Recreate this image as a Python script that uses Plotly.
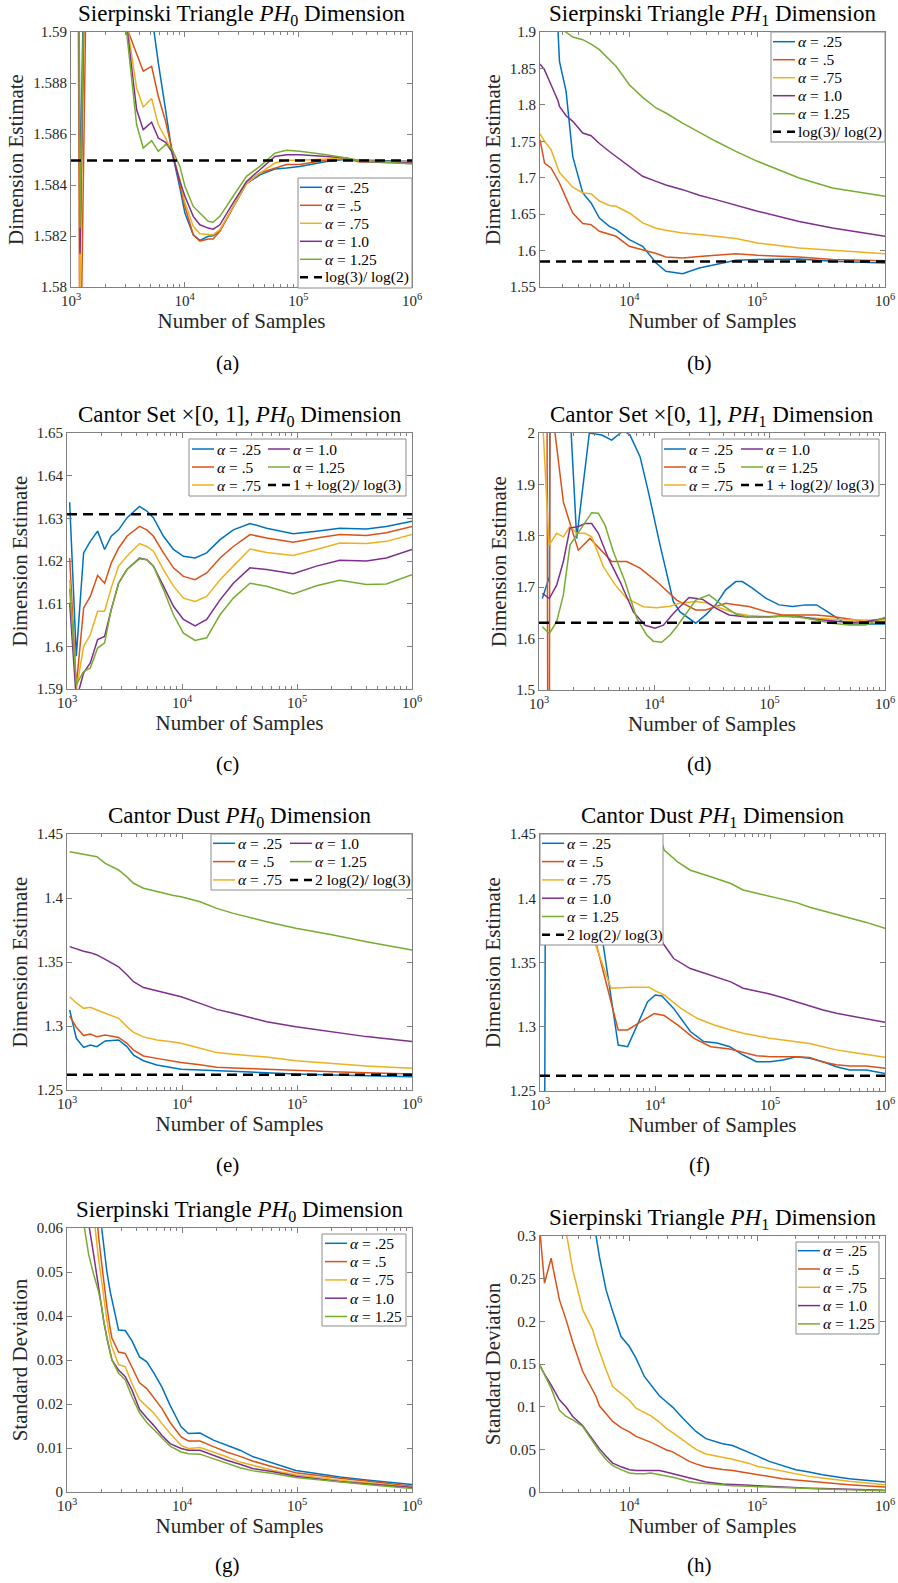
import math
import plotly.graph_objects as go

W, H = 898, 1583
FONT = "Liberation Serif"
TXT = "#262626"
AX = "#808080"
COLORS = ["#0072BD", "#D95319", "#EDB120", "#7E2F8E", "#77AC30"]
ALPHA_LABELS = ["<i>α</i> = .25", "<i>α</i> = .5", "<i>α</i> = .75", "<i>α</i> = 1.0", "<i>α</i> = 1.25"]

# ---------------- (a) Sierpinski PH0 dimension ----------------
A_X = [1000, 1200, 1330, 1800, 2900, 3780, 4320, 5120, 5860, 6790, 7670, 9080, 10050, 11900, 13600,
       16100, 17800, 20400, 26700, 35000, 45900, 62100, 78700, 103000, 177000, 265000, 347000, 557000, 1000000]
A_025 = [1.66, 1.5835, 1.66, 1.63, 1.598, 1.595, 1.5931, 1.5907, 1.5888, 1.58695, 1.58539, 1.58388, 1.5829, 1.58205, 1.58183,
         1.58199, 1.58201, 1.58222, 1.58314, 1.58405, 1.5844, 1.58463, 1.58467, 1.58473, 1.58492, 1.58501, 1.58498, 1.58495, 1.58492]
A_050 = [1.66, 1.575, 1.66, 1.63, 1.5905, 1.5891, 1.58846, 1.58865, 1.58748, 1.5865, 1.58545, 1.58395, 1.58316, 1.58205, 1.5818,
         1.58188, 1.58188, 1.58218, 1.5831, 1.58408, 1.58447, 1.58467, 1.5848, 1.5848, 1.58498, 1.58502, 1.5849, 1.58492, 1.58492]
A_075 = [1.66, 1.5800, 1.66, 1.63, 1.5912, 1.5878, 1.58706, 1.58739, 1.58637, 1.58584, 1.58532, 1.58421, 1.5833, 1.58238, 1.58209,
         1.58205, 1.58205, 1.58225, 1.58316, 1.58405, 1.58447, 1.58486, 1.58497, 1.58497, 1.58502, 1.58505, 1.58497, 1.5849, 1.5849]
A_100 = [1.66, 1.5813, 1.66, 1.63, 1.5913, 1.58695, 1.58617, 1.58646, 1.58584, 1.58567, 1.58532, 1.58414, 1.58356, 1.58277, 1.58244,
         1.58231, 1.58227, 1.58244, 1.5833, 1.58414, 1.5846, 1.58512, 1.58519, 1.58519, 1.58512, 1.58506, 1.58493, 1.58488, 1.58486]
A_125 = [1.66, 1.5823, 1.66, 1.63, 1.5911, 1.58637, 1.58545, 1.58574, 1.58532, 1.58558, 1.58545, 1.58473, 1.58395, 1.58316, 1.5829,
         1.58258, 1.58254, 1.58277, 1.58356, 1.58434, 1.58473, 1.58525, 1.58536, 1.58532, 1.58519, 1.58506, 1.58493, 1.5849, 1.58482]
A_REF = 1.58496
A_YT = [1.58, 1.582, 1.584, 1.586, 1.588, 1.59]
A_YL = ["1.58", "1.582", "1.584", "1.586", "1.588", "1.59"]

# ---------------- (b) Sierpinski PH1 dimension ----------------
B_X = [2000, 2170, 2440, 2760, 2840, 3200, 3610, 4320, 5020, 5830, 6980, 7870, 10000, 12700, 16200, 19300,
       26100, 35200, 47500, 68100, 100600, 213000, 388000, 1000000]
B_025 = [2.2, 2.1, 1.99, 1.905, 1.8597, 1.8186, 1.729, 1.679, 1.6653, 1.6447, 1.6333, 1.6287, 1.615, 1.6059, 1.583, 1.5716,
         1.5683, 1.576, 1.5807, 1.5866, 1.5876, 1.5885, 1.5853, 1.583]
B_050 = [1.7522, 1.720, 1.7134, 1.695, 1.6928, 1.672, 1.6516, 1.637, 1.6356, 1.6264, 1.622, 1.6196, 1.6059, 1.6013, 1.596, 1.5912,
         1.5898, 1.592, 1.5935, 1.5958, 1.5935, 1.5912, 1.5876, 1.5862]
B_075 = [1.7605, 1.750, 1.7385, 1.712, 1.707, 1.6973, 1.687, 1.679, 1.678, 1.668, 1.662, 1.6607, 1.6516, 1.6379, 1.6306, 1.628,
         1.6242, 1.622, 1.6196, 1.6165, 1.6104, 1.6036, 1.6004, 1.5958]
B_100 = [1.856, 1.848, 1.8277, 1.806, 1.798, 1.785, 1.7774, 1.7614, 1.7577, 1.747, 1.736, 1.729, 1.7156, 1.702, 1.695, 1.690,
         1.6836, 1.676, 1.6699, 1.662, 1.654, 1.640, 1.631, 1.6196]
B_125 = [1.93, 1.925, 1.915, 1.908, 1.906, 1.900, 1.893, 1.8895, 1.8835, 1.8758, 1.862, 1.853, 1.8277, 1.8103, 1.7957, 1.7888,
         1.775, 1.7625, 1.750, 1.7362, 1.7225, 1.6996, 1.686, 1.6745]
B_REF = 1.58496
B_YT = [1.55, 1.6, 1.65, 1.7, 1.75, 1.8, 1.85, 1.9]
B_YL = ["1.55", "1.6", "1.65", "1.7", "1.75", "1.8", "1.85", "1.9"]

# ---------------- (c) Cantor set x [0,1] PH0 ----------------
C_X = [1055, 1205, 1395, 1594, 1846, 2123, 2425, 2808, 3317, 4272, 4945, 5651, 6901, 8428, 10290, 12990,
       16400, 21410, 27950, 38990, 54400, 92700, 147700, 235500, 401300, 598400, 1000000]
C_025 = [1.63375, 1.5977, 1.6219, 1.6246, 1.627, 1.6227, 1.6258, 1.6273, 1.6301, 1.6328, 1.6317, 1.6301, 1.6258, 1.6227,
         1.6211, 1.6207, 1.6219, 1.625, 1.6273, 1.6288, 1.6277, 1.6264, 1.6270, 1.6277, 1.6275, 1.6281, 1.6293]
C_050 = [1.6207, 1.5906, 1.609, 1.6117, 1.6166, 1.6148, 1.6195, 1.623, 1.6258, 1.6281, 1.6273, 1.6258, 1.6219, 1.6184,
         1.6164, 1.6156, 1.6172, 1.6207, 1.6234, 1.6262, 1.6254, 1.6244, 1.6254, 1.6262, 1.626, 1.6266, 1.6281]
C_075 = [1.6156, 1.5898, 1.6, 1.6027, 1.6082, 1.6082, 1.6137, 1.6188, 1.6211, 1.6241, 1.6234, 1.6223, 1.618, 1.6141,
         1.6113, 1.6105, 1.6117, 1.6156, 1.6188, 1.6228, 1.622, 1.6213, 1.6227, 1.6242, 1.6241, 1.6246, 1.6262]
C_100 = [1.6102, 1.5875, 1.5938, 1.5961, 1.6016, 1.6023, 1.6086, 1.6148, 1.618, 1.6207, 1.6203, 1.6188, 1.6141, 1.6094,
         1.6063, 1.6048, 1.6063, 1.6109, 1.6148, 1.6184, 1.618, 1.617, 1.6188, 1.6202, 1.62, 1.6207, 1.6227]
C_125 = [1.6135, 1.591, 1.5941, 1.5949, 1.5996, 1.6008, 1.6086, 1.6148, 1.618, 1.6205, 1.6203, 1.6188, 1.6133, 1.6074,
         1.6031, 1.6014, 1.602, 1.6074, 1.6113, 1.6148, 1.6141, 1.6123, 1.6142, 1.6155, 1.6145, 1.6146, 1.6168]
C_REF = 1.63093
C_YT = [1.59, 1.6, 1.61, 1.62, 1.63, 1.64, 1.65]
C_YL = ["1.59", "1.6", "1.61", "1.62", "1.63", "1.64", "1.65"]

# ---------------- (d) Cantor set x [0,1] PH1 ----------------
D_X025 = [1069, 1229, 1265, 1500, 1850, 2123, 2732, 3498, 4269, 4875, 5400, 6150, 7516, 8870, 11210, 14620, 16710,
          22830, 27870, 34030, 41540, 50800, 57900, 70800, 92400, 120800, 157700, 206000, 255300, 316000, 392000, 460000, 1000000]
D_025 = [1.678, 1.720, 2.5, 2.5, 2.05, 1.795, 2.0, 1.996, 1.986, 1.996, 2.005, 1.996, 1.954, 1.886, 1.782, 1.672, 1.652,
         1.6299, 1.6461, 1.6656, 1.6948, 1.711, 1.711, 1.698, 1.6786, 1.6656, 1.6623, 1.6656, 1.6656, 1.6526, 1.6396, 1.6286, 1.6286]
D_X050 = [1069, 1150, 1215, 1260, 1377, 1626, 2193, 2769, 4269, 5760, 7516, 10490, 15630, 22830, 27870, 34030, 41540,
          50720, 66210, 92330, 128800, 179600, 250500, 349400, 487400, 679800, 1000000]
D_050 = [3.0, 3.0, 0.5, 3.0, 2.0, 1.866, 1.772, 1.795, 1.750, 1.750, 1.737, 1.711, 1.675, 1.6558, 1.6558, 1.6623, 1.6688,
         1.666, 1.6623, 1.6526, 1.6461, 1.6461, 1.6461, 1.643, 1.6377, 1.6331, 1.6331]
D_X075 = [1069, 1090, 1221, 1423, 1626, 1857, 2123, 2506, 2863, 3612, 4560, 5760, 8029, 10490, 13690, 16710, 22830,
          27870, 34030, 41540, 50720, 66210, 92330, 128800, 179600, 250500, 349400, 487400, 679800, 1000000]
D_075 = [2.2, 2.0, 1.782, 1.805, 1.798, 1.818, 1.805, 1.805, 1.798, 1.740, 1.705, 1.678, 1.662, 1.660, 1.663, 1.669, 1.6721,
         1.6699, 1.6623, 1.656, 1.6494, 1.645, 1.6429, 1.6429, 1.641, 1.6396, 1.638, 1.6364, 1.6364, 1.6364]
D_X100 = [1069, 1229, 1423, 1626, 1857, 2194, 2506, 2863, 3270, 3994, 5040, 6579, 8307, 10140, 11970, 14610, 20000,
          26090, 34030, 44460, 66210, 92330, 128800, 179600, 250500, 349400, 487400, 679800, 1000000]
D_100 = [1.688, 1.678, 1.704, 1.750, 1.815, 1.818, 1.824, 1.824, 1.805, 1.756, 1.711, 1.652, 1.626, 1.620, 1.626, 1.649, 1.6799,
         1.6766, 1.6591, 1.6461, 1.6416, 1.642, 1.6442, 1.643, 1.6377, 1.635, 1.6312, 1.633, 1.6396]
D_X125 = [1069, 1229, 1423, 1626, 1857, 2123, 2506, 2863, 3270, 3736, 4413, 5570, 7038, 8590, 9800, 11590, 13690, 15630,
          22860, 29800, 38900, 50800, 66210, 92330, 128800, 179600, 250500, 349400, 487400, 679800, 1000000]
D_125 = [1.623, 1.610, 1.633, 1.685, 1.782, 1.802, 1.827, 1.845, 1.844, 1.821, 1.769, 1.711, 1.639, 1.607, 1.595, 1.593, 1.607, 1.623,
         1.675, 1.685, 1.665, 1.648, 1.6416, 1.6416, 1.6442, 1.642, 1.6364, 1.630, 1.6266, 1.6266, 1.6416]
D_REF = 1.63093
D_YT = [1.5, 1.6, 1.7, 1.8, 1.9, 2.0]
D_YL = ["1.5", "1.6", "1.7", "1.8", "1.9", "2"]

# ---------------- (e) Cantor dust PH0 ----------------
E_X = [1055, 1205, 1395, 1594, 1821, 2151, 2808, 3317, 3789, 4627, 6039, 8428, 9822, 14360, 20030, 27950, 54400,
       97770, 206200, 401300, 1000000]
E_025 = [1.3125, 1.2904, 1.2833, 1.2852, 1.2839, 1.2883, 1.2891, 1.2839, 1.2773, 1.2729, 1.2695, 1.2669, 1.2663, 1.2656,
         1.2650, 1.2643, 1.2635, 1.2625, 1.2617, 1.2612, 1.2604]
E_050 = [1.3078, 1.2990, 1.2925, 1.2938, 1.2917, 1.2930, 1.2911, 1.2865, 1.2812, 1.2766, 1.2747, 1.2721, 1.2715, 1.2698,
         1.2677, 1.2672, 1.2661, 1.2652, 1.2643, 1.2635, 1.2625]
E_075 = [1.3229, 1.3180, 1.3138, 1.3146, 1.3125, 1.3100, 1.3060, 1.2995, 1.2950, 1.2915, 1.2890, 1.2875, 1.2865, 1.2826,
         1.2792, 1.2780, 1.2757, 1.2729, 1.2708, 1.2688, 1.2669]
E_100 = [1.3620, 1.3600, 1.3584, 1.3573, 1.3555, 1.3520, 1.3463, 1.3400, 1.3346, 1.3300, 1.3276, 1.3245, 1.3229, 1.3177,
         1.3130, 1.3099, 1.3034, 1.2995, 1.2956, 1.2917, 1.2878]
E_125 = [1.4362, 1.4352, 1.4345, 1.4336, 1.4323, 1.4270, 1.4219, 1.4165, 1.4115, 1.4076, 1.4049, 1.4020, 1.4010, 1.3971,
         1.3919, 1.3880, 1.3815, 1.3763, 1.3711, 1.3659, 1.3594]
E_REF = 1.26186
E_YT = [1.25, 1.3, 1.35, 1.4, 1.45]
E_YL = ["1.25", "1.3", "1.35", "1.4", "1.45"]

# ---------------- (f) Cantor dust PH1 ----------------
F_X025 = [1000, 1080, 1130, 1500, 2500, 3548, 4786, 5780, 8630, 10060, 11500, 14520, 20300, 26500, 34630, 44700, 58390,
          76270, 99550, 130000, 169800, 221700, 289300, 377700, 493300, 688600, 1000000]
F_025 = [0.9, 1.0, 1.6, 1.6, 1.50, 1.3636, 1.2858, 1.2845, 1.3195, 1.3247, 1.3240, 1.3143, 1.2963, 1.2885, 1.2873, 1.2845, 1.2780,
         1.2728, 1.2728, 1.2741, 1.2767, 1.2754, 1.2728, 1.2689, 1.2663, 1.2663, 1.2637]
F_X050 = [1000, 1500, 2500, 3101, 4786, 5780, 7543, 9840, 12020, 15720, 21890, 30570, 44700, 58390, 76270, 99550, 130000,
          169800, 221700, 289300, 377700, 493300, 688600, 1000000]
F_050 = [1.42, 1.44, 1.42, 1.3636, 1.2975, 1.2975, 1.304, 1.3103, 1.3087, 1.3014, 1.2910, 1.2845, 1.2826, 1.2800, 1.2775, 1.2767,
         1.2767, 1.2767, 1.2760, 1.2725, 1.2705, 1.2695, 1.2695, 1.2676]
F_X075 = [1000, 1500, 2500, 3050, 4140, 6176, 8907, 10060, 12020, 16790, 23440, 32700, 45640, 58390, 76270, 99550, 130000,
          169800, 221700, 289300, 377700, 493300, 688600, 1000000]
F_075 = [1.43, 1.44, 1.42, 1.3636, 1.3299, 1.3307, 1.3307, 1.3279, 1.3247, 1.3143, 1.3064, 1.3014, 1.2975, 1.2950, 1.2930, 1.2910,
         1.2897, 1.2885, 1.2870, 1.2845, 1.2820, 1.2803, 1.2783, 1.2762]
F_X100 = [1000, 2000, 4000, 8000, 12020, 14520, 20300, 30570, 45640, 58390, 76270, 99550, 130000, 169800, 221700, 289300,
          377700, 493300, 688600, 1000000]
F_100 = [1.47, 1.46, 1.43, 1.39, 1.3636, 1.3531, 1.3453, 1.3401, 1.3349, 1.3300, 1.3280, 1.3255, 1.3226, 1.3195, 1.3160, 1.3130,
         1.3105, 1.3085, 1.3060, 1.3034]
F_X125 = [1000, 5000, 10000, 12020, 15720, 20300, 30570, 45640, 58390, 76270, 99550, 130000, 169800, 221700, 289300, 377700,
          493300, 688600, 1000000]
F_125 = [1.52, 1.50, 1.46, 1.4375, 1.4283, 1.4218, 1.4167, 1.4115, 1.4064, 1.4040, 1.4018, 1.3992, 1.3966, 1.3930, 1.3903, 1.3875,
         1.3850, 1.3812, 1.3766]
F_REF = 1.26186

# ---------------- (g) Sierpinski PH0 standard deviation ----------------
G_X = [1000, 1414, 1542, 1704, 1821, 1883, 2012, 2081, 2224, 2377, 2458, 2808, 3208, 3665, 4272, 4945, 5651, 6674, 7884,
       9822, 11370, 14360, 18750, 24460, 31930, 41680, 62170, 97770, 147700, 235500, 401300, 1000000]
G_025 = [0.160, 0.110, 0.095, 0.080, 0.070, 0.066, 0.0595, 0.056, 0.050, 0.0455, 0.0437, 0.0368, 0.0367, 0.0344, 0.0307, 0.0296,
         0.0272, 0.0239, 0.0197, 0.0148, 0.0133, 0.0134, 0.0118, 0.0106, 0.0095, 0.0080, 0.0065, 0.0049, 0.0042, 0.0034, 0.0027, 0.0017]
G_050 = [0.140, 0.095, 0.083, 0.070, 0.062, 0.058, 0.0515, 0.048, 0.042, 0.037, 0.035, 0.0318, 0.0315, 0.0284, 0.0248, 0.0235,
         0.0216, 0.0190, 0.0158, 0.0125, 0.0116, 0.0116, 0.0103, 0.0091, 0.0081, 0.0070, 0.0057, 0.0044, 0.0038, 0.0031, 0.0025, 0.0013]
G_075 = [0.120, 0.085, 0.075, 0.063, 0.056, 0.053, 0.0475, 0.0445, 0.039, 0.0345, 0.033, 0.0289, 0.0285, 0.0247, 0.0210, 0.0194,
         0.0180, 0.0156, 0.0133, 0.0106, 0.0099, 0.0101, 0.0091, 0.0080, 0.0068, 0.0061, 0.0049, 0.0039, 0.0033, 0.0027, 0.0021, 0.0011]
G_100 = [0.100, 0.070, 0.061, 0.054, 0.049, 0.046, 0.0415, 0.039, 0.035, 0.032, 0.030, 0.0277, 0.0262, 0.0232, 0.0188, 0.0168,
         0.0152, 0.0129, 0.0110, 0.0099, 0.0095, 0.0095, 0.0084, 0.0072, 0.0063, 0.0053, 0.0046, 0.0036, 0.0030, 0.0024, 0.0019, 0.0010]
G_125 = [0.085, 0.061, 0.054, 0.0495, 0.047, 0.0455, 0.0418, 0.039, 0.035, 0.0315, 0.030, 0.0270, 0.0255, 0.0217, 0.0180, 0.0158,
         0.0142, 0.0122, 0.0104, 0.0091, 0.0087, 0.0086, 0.0076, 0.0065, 0.0055, 0.0048, 0.0042, 0.0033, 0.0028, 0.0022, 0.0017, 0.0008]
G_YT = [0, 0.01, 0.02, 0.03, 0.04, 0.05, 0.06]
G_YL = ["0", "0.01", "0.02", "0.03", "0.04", "0.05", "0.06"]

# ---------------- (h) Sierpinski PH1 standard deviation ----------------
H_X = [2000, 2168, 2443, 2839, 3201, 3608, 4319, 5170, 5490, 5829, 6573, 7410, 8608, 10000, 11270, 13100, 14770, 17160,
       19340, 21800, 26100, 29430, 33170, 39720, 53600, 64170, 86600, 100600, 124100, 157700, 200500, 254800, 323800, 523400, 1000000]
H_025 = [0.60, 0.55, 0.50, 0.45, 0.42, 0.39, 0.35, 0.31, 0.30, 0.2758, 0.2368, 0.2114, 0.1822, 0.1705, 0.1568, 0.1354, 0.1256,
         0.1127, 0.1060, 0.0995, 0.0866, 0.0790, 0.0710, 0.0625, 0.0565, 0.0545, 0.0456, 0.0420, 0.0359, 0.0310, 0.0261, 0.0235,
         0.0203, 0.0156, 0.0117]
H_050 = [0.305, 0.2446, 0.2739, 0.2251, 0.2017, 0.1755, 0.1412, 0.1197, 0.1120, 0.1010, 0.0915, 0.0827, 0.0755, 0.0705, 0.0651,
         0.0615, 0.0581, 0.0535, 0.0495, 0.0470, 0.0405, 0.0359, 0.0330, 0.0292, 0.0265, 0.0253, 0.0220, 0.0203, 0.0180, 0.0156,
         0.0140, 0.0125, 0.0112, 0.0086, 0.0058]
H_075 = [0.50, 0.46, 0.41, 0.35, 0.305, 0.2602, 0.2134, 0.1900, 0.1760, 0.1650, 0.1432, 0.1236, 0.1160, 0.1075, 0.0983, 0.0930,
         0.0893, 0.0820, 0.0749, 0.0695, 0.0612, 0.0555, 0.0500, 0.0445, 0.0405, 0.0385, 0.0335, 0.0300, 0.0275, 0.0242, 0.0210,
         0.0183, 0.0165, 0.0125, 0.0086]
H_100 = [0.1482, 0.1380, 0.1256, 0.1080, 0.0995, 0.0885, 0.0776, 0.0612, 0.0560, 0.0508, 0.0420, 0.0339, 0.0295, 0.0261, 0.0251,
         0.0252, 0.0259, 0.0252, 0.0234, 0.0215, 0.0183, 0.0160, 0.0140, 0.0117, 0.0095, 0.0086, 0.0078, 0.0074, 0.0066, 0.0058,
         0.0052, 0.0045, 0.0040, 0.0031, 0.0020]
H_125 = [0.1482, 0.1380, 0.1217, 0.0956, 0.0885, 0.0846, 0.0768, 0.0593, 0.0530, 0.0476, 0.0380, 0.0308, 0.0262, 0.0222, 0.0215,
         0.0214, 0.0222, 0.0205, 0.0191, 0.0172, 0.0144, 0.0120, 0.0108, 0.0097, 0.0080, 0.0074, 0.0066, 0.0062, 0.0055, 0.0047,
         0.0042, 0.0037, 0.0034, 0.0027, 0.0016]
H_YT = [0, 0.05, 0.1, 0.15, 0.2, 0.25, 0.3]
H_YL = ["0", "0.05", "0.1", "0.15", "0.2", "0.25", "0.3"]

XT_FULL = [1e3, 1e4, 1e5, 1e6]
XL_FULL = ["10<sup>3</sup>", "10<sup>4</sup>", "10<sup>5</sup>", "10<sup>6</sup>"]
XT_PART = [1e4, 1e5, 1e6]
XL_PART = ["10<sup>4</sup>", "10<sup>5</sup>", "10<sup>6</sup>"]

DIM = "Dimension Estimate"
STD = "Standard Deviation"
SAMPLES = "Number of Samples"

PANELS = [
    dict(cap="(a)", box=(71, 412, 32, 287), xmin=1000, xt=(XT_FULL, XL_FULL), yr=(1.58, 1.59), yt=(A_YT, A_YL), ylab=DIM,
         title="Sierpinski Triangle <i>PH</i><sub>0</sub> Dimension",
         series=[(A_X, A_025), (A_X, A_050), (A_X, A_075), (A_X, A_100), (A_X, A_125)],
         ref=(A_REF, "log(3)/ log(2)"),
         leg=dict(box=(298, 178, 412, 288), cols=[300], row0=187.3, pitch=18.0), capxy=(227, 363)),
    dict(cap="(b)", box=(540, 885, 32, 287), xmin=2000, xt=(XT_PART, XL_PART), yr=(1.55, 1.9), yt=(B_YT, B_YL), ylab=DIM,
         title="Sierpinski Triangle <i>PH</i><sub>1</sub> Dimension",
         series=[(B_X, B_025), (B_X, B_050), (B_X, B_075), (B_X, B_100), (B_X, B_125)],
         ref=(B_REF, "log(3)/ log(2)"),
         leg=dict(box=(771, 32, 885, 142), cols=[773], row0=41.7, pitch=18.0), capxy=(699, 363)),
    dict(cap="(c)", box=(67, 412, 433, 689), xmin=1000, xt=(XT_FULL, XL_FULL), yr=(1.59, 1.65), yt=(C_YT, C_YL), ylab=DIM,
         title="Cantor Set ×[0, 1], <i>PH</i><sub>0</sub> Dimension",
         series=[(C_X, C_025), (C_X, C_050), (C_X, C_075), (C_X, C_100), (C_X, C_125)],
         ref=(C_REF, "1 + log(2)/ log(3)"),
         leg=dict(box=(189, 439, 406, 496), cols=[192, 268], row0=449, pitch=18.0), capxy=(227, 764)),
    dict(cap="(d)", box=(539, 885, 433, 690), xmin=1000, xt=(XT_FULL, XL_FULL), yr=(1.5, 2.0), yt=(D_YT, D_YL), ylab=DIM,
         title="Cantor Set ×[0, 1], <i>PH</i><sub>1</sub> Dimension",
         series=[(D_X025, D_025), (D_X050, D_050), (D_X075, D_075), (D_X100, D_100), (D_X125, D_125)],
         ref=(D_REF, "1 + log(2)/ log(3)"),
         leg=dict(box=(662, 439, 879, 496), cols=[664, 741], row0=449, pitch=18.0), capxy=(699, 764)),
    dict(cap="(e)", box=(67, 412, 834, 1090), xmin=1000, xt=(XT_FULL, XL_FULL), yr=(1.25, 1.45), yt=(E_YT, E_YL), ylab=DIM,
         title="Cantor Dust <i>PH</i><sub>0</sub> Dimension",
         series=[(E_X, E_025), (E_X, E_050), (E_X, E_075), (E_X, E_100), (E_X, E_125)],
         ref=(E_REF, "2 log(2)/ log(3)"),
         leg=dict(box=(211, 834, 412, 890), cols=[213, 290], row0=843.3, pitch=18.3), capxy=(227, 1165)),
    dict(cap="(f)", box=(540, 885, 834, 1091), xmin=1000, xt=(XT_FULL, XL_FULL), yr=(1.25, 1.45), yt=(E_YT, E_YL), ylab=DIM,
         title="Cantor Dust <i>PH</i><sub>1</sub> Dimension",
         series=[(F_X025, F_025), (F_X050, F_050), (F_X075, F_075), (F_X100, F_100), (F_X125, F_125)],
         ref=(F_REF, "2 log(2)/ log(3)"),
         leg=dict(box=(540, 834, 663, 945), cols=[542], row0=843.3, pitch=18.3), capxy=(699, 1165)),
    dict(cap="(g)", box=(67, 412, 1228, 1492), xmin=1000, xt=(XT_FULL, XL_FULL), yr=(0, 0.06), yt=(G_YT, G_YL), ylab=STD,
         title="Sierpinski Triangle <i>PH</i><sub>0</sub> Dimension",
         series=[(G_X, G_025), (G_X, G_050), (G_X, G_075), (G_X, G_100), (G_X, G_125)],
         ref=None,
         leg=dict(box=(322, 1234, 406, 1326), cols=[325], row0=1243.3, pitch=18.3), capxy=(227, 1565)),
    dict(cap="(h)", box=(540, 885, 1236, 1492), xmin=2000, xt=(XT_PART, XL_PART), yr=(0, 0.3), yt=(H_YT, H_YL), ylab=STD,
         title="Sierpinski Triangle <i>PH</i><sub>1</sub> Dimension",
         series=[(H_X, H_025), (H_X, H_050), (H_X, H_075), (H_X, H_100), (H_X, H_125)],
         ref=None,
         leg=dict(box=(796, 1242, 879, 1334), cols=[798], row0=1250.7, pitch=18.3), capxy=(699, 1565)),
]

fig = go.Figure()
annotations = []
shapes = []


def px(x):
    return x / W


def py(y):
    return 1 - y / H


for i, p in enumerate(PANELS):
    n = i + 1
    xa_name = "xaxis" if n == 1 else f"xaxis{n}"
    ya_name = "yaxis" if n == 1 else f"yaxis{n}"
    xr = "x" if n == 1 else f"x{n}"
    yr = "y" if n == 1 else f"y{n}"
    l, r, t, b = p["box"]
    minor_vals = [m * 10 ** e for e in range(3, 6) for m in range(2, 10) if m * 10 ** e > p["xmin"]]
    fig.layout[xa_name] = dict(
        domain=[px(l), px(r)], anchor=yr, type="log", range=[math.log10(p["xmin"]), 6],
        tickmode="array", tickvals=p["xt"][0], ticktext=p["xt"][1],
        ticks="inside", ticklen=5, tickwidth=1, tickcolor=AX,
        minor=dict(tickmode="array", tickvals=minor_vals, ticks="inside", ticklen=3, tickwidth=1,
                   tickcolor=AX, showgrid=False),
        showline=True, linecolor=AX, linewidth=1, mirror="ticks", showgrid=False, zeroline=False,
        automargin=False, ticklabeloverflow="allow",
        tickfont=dict(family=FONT, size=15, color=TXT),
        title=dict(text=SAMPLES, font=dict(family=FONT, size=21, color=TXT), standoff=3),
        fixedrange=True,
    )
    fig.layout[ya_name] = dict(
        domain=[py(b), py(t)], anchor=xr, range=list(p["yr"]),
        tickmode="array", tickvals=p["yt"][0], ticktext=p["yt"][1],
        ticks="inside", ticklen=5, tickwidth=1, tickcolor=AX,
        showline=True, linecolor=AX, linewidth=1, mirror="ticks", showgrid=False, zeroline=False,
        automargin=False, ticklabeloverflow="allow",
        tickfont=dict(family=FONT, size=15, color=TXT),
        title=dict(text=p["ylab"], font=dict(family=FONT, size=21, color=TXT), standoff=3),
        fixedrange=True,
    )

    entries = []
    for j, (xs, ys) in enumerate(p["series"]):
        fig.add_trace(go.Scatter(x=xs, y=ys, mode="lines", name=ALPHA_LABELS[j],
                                 line=dict(color=COLORS[j], width=1.5),
                                 xaxis=xr, yaxis=yr, showlegend=False, hoverinfo="skip"))
        entries.append((ALPHA_LABELS[j], COLORS[j], 1.5, "solid"))
    if p["ref"] is not None:
        val, lab = p["ref"]
        fig.add_trace(go.Scatter(x=[p["xmin"], 1e6], y=[val, val], mode="lines", name=lab,
                                 line=dict(color="black", width=2.5, dash="10px,6px"),
                                 xaxis=xr, yaxis=yr, showlegend=False, hoverinfo="skip"))
        entries.append((lab, "black", 2.5, "8px,6px"))

    # legend box (MATLAB style, drawn over the plot area)
    lg = p["leg"]
    x0, y0, x1, y1 = lg["box"]
    shapes.append(dict(type="rect", xref="paper", yref="paper", x0=px(x0), x1=px(x1), y0=py(y1), y1=py(y0),
                       fillcolor="white", line=dict(color="#8c8c8c", width=1), layer="above"))
    ncols = len(lg["cols"])
    per_col = 3 if ncols == 2 else len(entries)
    for k, (lab, col, lw, dash) in enumerate(entries):
        c = k // per_col
        rr = k % per_col
        sx = lg["cols"][c]
        yc = lg["row0"] + rr * lg["pitch"]
        shapes.append(dict(type="line", xref="paper", yref="paper", x0=px(sx), x1=px(sx + 22), y0=py(yc), y1=py(yc),
                           line=dict(color=col, width=lw, dash=dash), layer="above"))
        annotations.append(dict(text=lab, xref="paper", yref="paper", x=px(sx + 23), y=py(yc),
                                xanchor="left", yanchor="middle", showarrow=False,
                                font=dict(family=FONT, size=15.5, color="black")))

    annotations.append(dict(
        text=p["title"], xref=f"{xr} domain", yref=f"{yr} domain", x=0.5, y=1.0,
        xanchor="center", yanchor="middle", yshift=17, showarrow=False,
        font=dict(family=FONT, size=23, color="black")))
    cx, cy = p["capxy"]
    annotations.append(dict(
        text=p["cap"], xref="paper", yref="paper", x=px(cx), y=py(cy),
        xanchor="center", yanchor="middle", showarrow=False,
        font=dict(family=FONT, size=21, color="black")))

fig.update_layout(width=W, height=H, margin=dict(l=0, r=0, t=0, b=0, pad=0),
                  paper_bgcolor="white", plot_bgcolor="white",
                  font=dict(family=FONT, color=TXT), showlegend=False,
                  annotations=annotations, shapes=shapes)
fig.write_html("out.html", config={"displayModeBar": False, "staticPlot": True},
               post_script="document.body.style.margin='0px';document.documentElement.style.overflow='hidden';")
